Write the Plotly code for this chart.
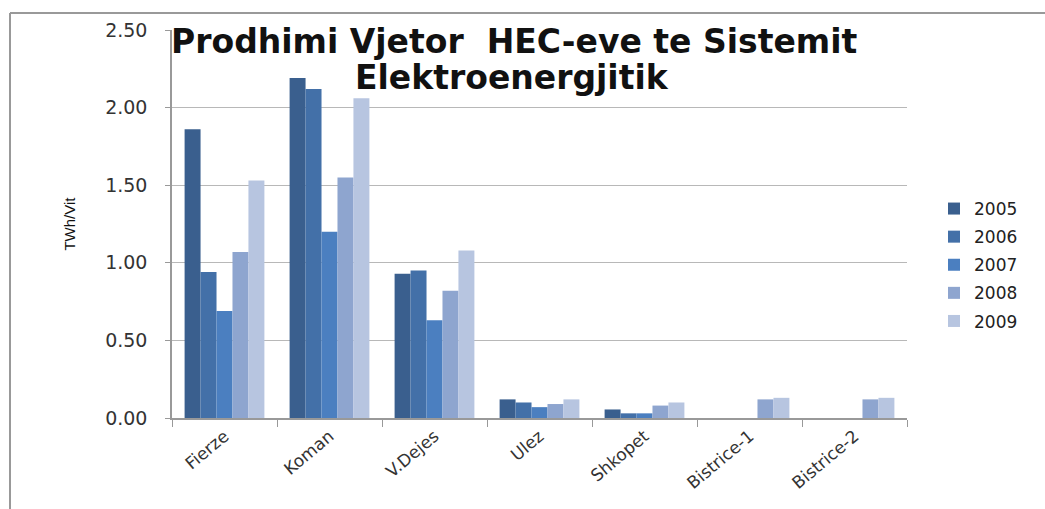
import plotly.graph_objects as go

stations = ["Fierze", "Koman", "V.Dejes", "Ulez", "Shkopet", "Bistrice-1", "Bistrice-2"]
years = ["2005", "2006", "2007", "2008", "2009"]

prod_2005 = [1.86, 2.19, 0.93, 0.12, 0.055, None, None]
prod_2006 = [0.94, 2.12, 0.95, 0.10, 0.03, None, None]
prod_2007 = [0.69, 1.20, 0.63, 0.07, 0.03, None, None]
prod_2008 = [1.07, 1.55, 0.82, 0.09, 0.08, 0.12, 0.12]
prod_2009 = [1.53, 2.06, 1.08, 0.12, 0.10, 0.13, 0.13]

series = [prod_2005, prod_2006, prod_2007, prod_2008, prod_2009]
colors = ["#3A5F8E", "#4370A8", "#4B7FC0", "#8EA5CF", "#B7C5E0"]

title_lines = ["Prodhimi Vjetor  HEC-eve te Sistemit", "Elektroenergjitik"]

fig = go.Figure()
for year, vals, col in zip(years, series, colors):
    fig.add_trace(go.Bar(x=stations, y=vals, name=year, marker_color=col,
                         marker_line_width=0, legendgroup=year))

# plot area in pixels: x 172..907, y 30..418
def px(x):
    return (x - 172) / 735

def py(y):
    return (418 - y) / 388

fig.update_layout(
    width=1045, height=509,
    margin=dict(l=172, r=138, t=30, b=91),
    paper_bgcolor="white", plot_bgcolor="white",
    barmode="group", bargap=0.24, bargroupgap=0,
    showlegend=True,
    legend=dict(x=px(934), y=py(265), yanchor="middle", xanchor="left",
                font=dict(family="DejaVu Sans", size=17, color="#222222"),
                traceorder="grouped", tracegroupgap=3, itemwidth=30),
    xaxis=dict(showline=True, linecolor="#999999", linewidth=1.5,
               ticks="outside", ticklen=7, tickcolor="#999999",
               tickson="boundaries", tickangle=-40,
               tickfont=dict(family="DejaVu Sans", size=17, color="#333333")),
    yaxis=dict(range=[0, 2.5], dtick=0.5, tickformat=".2f",
               showgrid=True, gridcolor="#B8B8B8", gridwidth=1,
               showline=True, linecolor="#999999", linewidth=1.5,
               ticks="outside", ticklen=5, tickcolor="#999999",
               tickfont=dict(family="DejaVu Sans", size=19, color="#333333"),
               ticklabelstandoff=14, zeroline=False,
               title=dict(text="TWh/Vit", standoff=26,
                          font=dict(family="Liberation Sans", size=15, color="#111111"))),
    annotations=[
        dict(text="<b>" + title_lines[0] + "</b>",
             xref="paper", yref="paper", x=px(514), y=py(41),
             xanchor="center", yanchor="middle", showarrow=False,
             font=dict(family="DejaVu Sans", size=33, color="#111111")),
        dict(text="<b>" + title_lines[1] + "</b>",
             xref="paper", yref="paper", x=px(512), y=py(77),
             xanchor="center", yanchor="middle", showarrow=False,
             font=dict(family="DejaVu Sans", size=33, color="#111111")),
    ],
    shapes=[
        dict(type="line", xref="paper", yref="paper",
             x0=px(10), x1=px(1045), y0=py(13), y1=py(13),
             line=dict(color="#999999", width=2)),
        dict(type="line", xref="paper", yref="paper",
             x0=px(10), x1=px(10), y0=py(13), y1=py(509),
             line=dict(color="#999999", width=2)),
    ],
)

fig.write_html("out.html", config={"displayModeBar": False},
               post_script="document.body.style.margin='0';")
